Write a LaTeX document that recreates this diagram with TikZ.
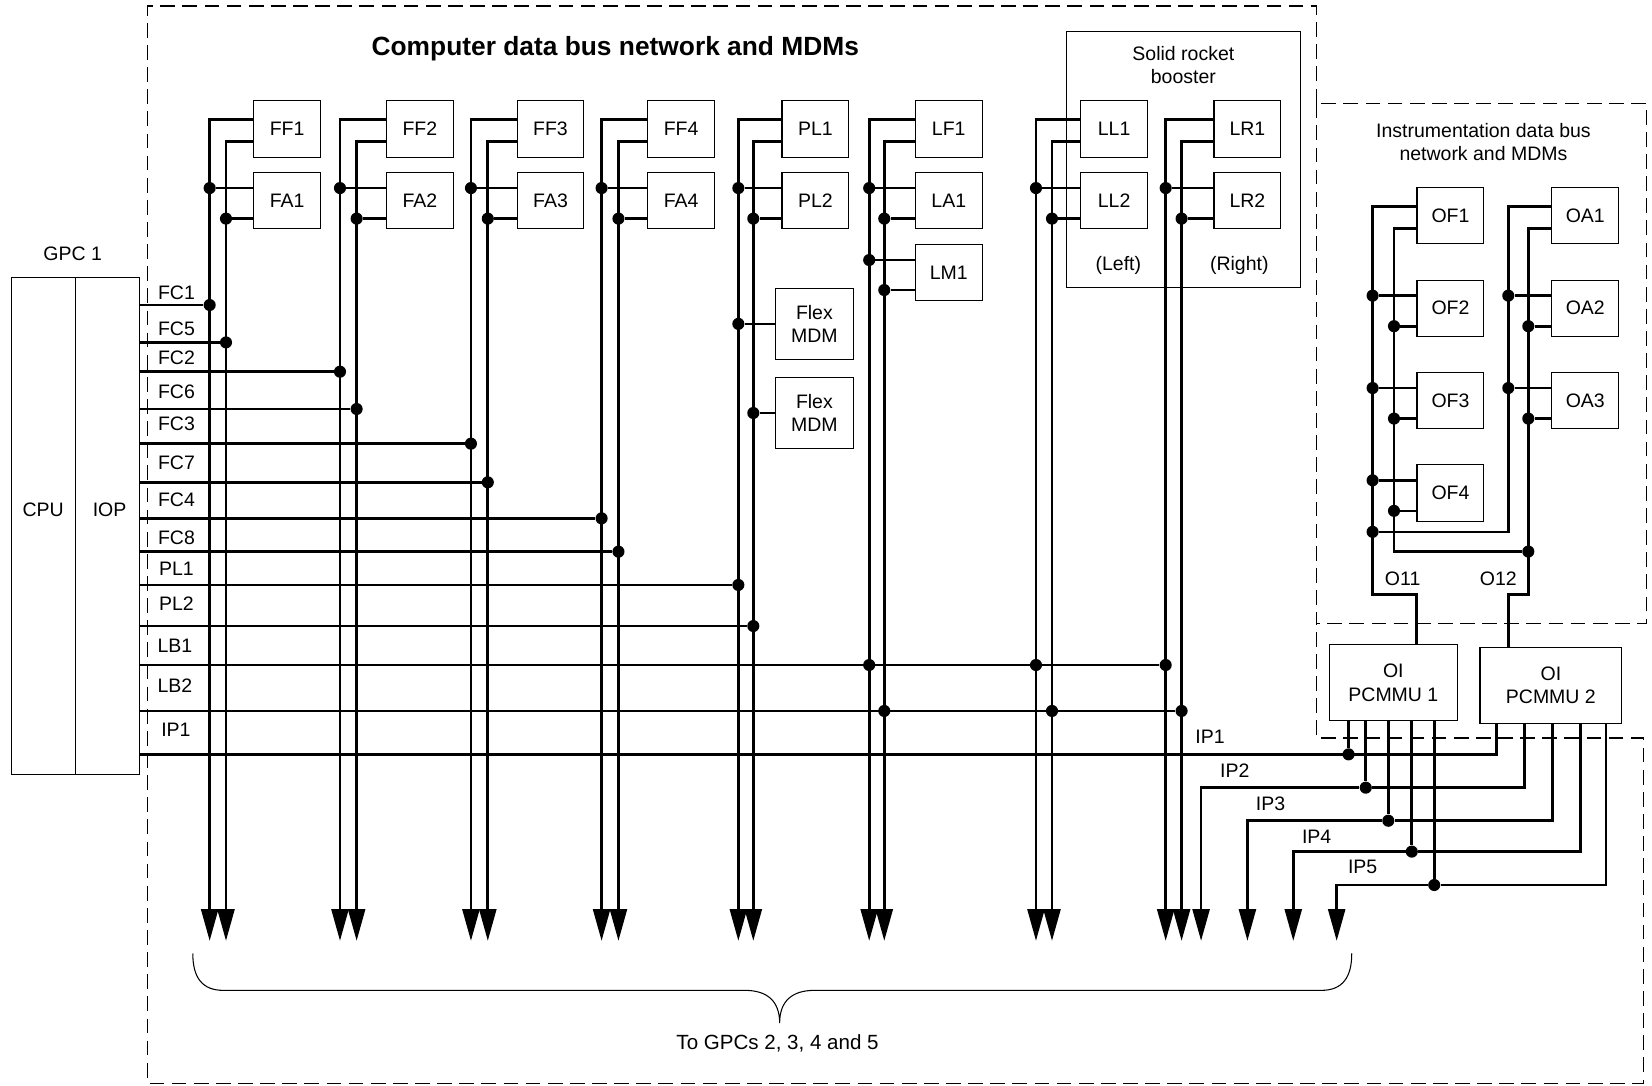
\documentclass[tikz,border=0pt]{standalone}
\usepackage{fontspec}
\setmainfont{Liberation Sans}
\usetikzlibrary{arrows.meta}
\usetikzlibrary{positioning}
\tikzset{
    box/.style={
           rectangle,
           draw=black, line width=1pt,
           minimum width=63.5pt,
           minimum height=53.5pt,
           inner sep=1pt,
           align=center,
           font=\fontsize{18.5}{22}\selectfont,
           },
    lbl/.style={inner sep=0pt, align=center, font=\fontsize{18.5}{22}\selectfont},
    bus/.style={line width=2.5pt},
    tobus/.style={line width=2.5pt, -{Triangle[length=30pt,width=16pt]}},
    dot/.style={circle, fill=black, inner sep=0pt, minimum size=11.5pt},
    frame/.style={line width=1.1pt, dash pattern=on 14pt off 7pt},
}
\begin{document}
\begin{tikzpicture}[x=1pt,y=-1pt]
      \useasboundingbox (0,0) rectangle (1568,1030);
      \draw[frame] (1249.7,98.1) -- (1249.7,5.7) -- (140.2,5.7) -- (140.2,1028) -- (1559.7,1028) -- (1559.7,700.5) -- (1249.7,700.5) -- (1249.7,592);
      \draw[frame] (1249.7,98.1) rectangle (1563,592);
      \node[font=\fontsize{25}{30}\selectfont\bfseries] (title) at (584,46) {Computer data bus network and MDMs};
      \node[draw, line width=1pt, minimum width=121pt, minimum height=472pt, inner sep=0pt] (gpc) at (71.6,499.5) {};
      \draw[line width=1pt] (gpc.north) -- (gpc.south);
      \node[lbl] (gpcname) at (69,241) {GPC 1};
      \node[lbl] (cpu) at (41,484) {CPU};
      \node[lbl] (iop) at (104,484) {IOP};
      \node[draw, line width=1pt, minimum width=221.5pt, minimum height=242.7pt] (srb) at (1123.2,151.4) {};
      \node[lbl] (srbname) at (1123.2,61.7) {Solid rocket\\booster};
      \node[lbl] (left) at (1061.5,251.5) {(Left)};
      \node[lbl] (right) at (1176.3,251.5) {(Right)};
      \foreach \up/\lo/\x/\pa/\pb/\g in {FF1/FA1/272.5/199/214.5/1, FF2/FA2/398.5/322.7/338.5/2,
                FF3/FA3/522.5/447/463/3, FF4/FA4/646.5/571/587/4, PL1/PL2/774/700.8/715/5,
                LF1/LA1/900.5/825/839.3/6, LL1/LL2/1057.5/983.3/998.5/7, LR1/LR2/1184/1106.4/1121.5/8} {
        \node[box] (\up) at (\x,122.3) {\up};
        \node[box] (\lo) at (\x,190.5) {\lo};
        \coordinate (ea\g) at (\pa,893);
        \coordinate (eb\g) at (\pb,893);
        \node[dot] (da\g) at (\pa,178.5) {};
        \node[dot] (db\g) at (\pb,207.5) {};
        \draw[tobus] ([yshift=9pt]\up.west) -| (ea\g);
        \draw[tobus] ([yshift=-12pt]\up.west) -| (eb\g);
        \draw[bus] (da\g) -- (da\g -| \lo.west);
        \draw[bus] (db\g) -- (db\g -| \lo.west);
      }
      \node[box] (LM1) at (900.5,258.6) {LM1};
      \node[dot] (lma) at (825,246.8) {};
      \node[dot] (lmb) at (839.3,275.3) {};
      \draw[bus] (lma) -- (lma -| LM1.west);
      \draw[bus] (lmb) -- (lmb -| LM1.west);
      \node[box, minimum width=74pt, minimum height=67pt] (flex1) at (773,307.4) {Flex\\MDM};
      \node[box, minimum width=74pt, minimum height=67pt] (flex2) at (773,392) {Flex\\MDM};
      \node[dot] (fxa) at (700.8,307.4) {};
      \node[dot] (fxb) at (715,392) {};
      \draw[bus] (fxa) -- (flex1.west);
      \draw[bus] (fxb) -- (flex2.west);
      \foreach \n/\y/\ly/\px in {FC1/289.5/277.5/199, FC5/325/311.6/214.5, FC2/352.8/340/322.7,
                FC6/388.2/371.8/338.5, FC3/421.1/402.7/447, FC7/457.8/439.1/463, FC4/492/474/571,
                FC8/523.6/510/587, PL1/555.2/539.4/700.8, PL2/594.2/573.3/715} {
        \node[dot] (j\n) at (\px,\y) {};
        \draw[bus] (gpc.east |- j\n) -- (j\n);
        \node[lbl] (t\n) at (167.5,\ly) {\n};
      }
      \node[dot] (jLB1a) at (825,631.2) {};
      \node[dot] (jLB1b) at (983.3,631.2) {};
      \node[dot] (jLB1c) at (1106.4,631.2) {};
      \draw[bus] (gpc.east |- jLB1a) -- (jLB1c);
      \node[dot] (jLB2a) at (839.3,674.8) {};
      \node[dot] (jLB2b) at (998.5,674.8) {};
      \node[dot] (jLB2c) at (1121.5,674.8) {};
      \draw[bus] (gpc.east |- jLB2a) -- (jLB2c);
      \node[lbl] (tLB1) at (166,612.8) {LB1};
      \node[lbl] (tLB2) at (166,650.8) {LB2};
      \node[lbl] (tIP1) at (167,692.9) {IP1};
      \node[lbl] (instr) at (1408,134.5) {Instrumentation data bus\\network and MDMs};
      \foreach \i/\y in {1/204.7, 2/292.6, 3/380.3, 4/467.9}
        \node[box] (OF\i) at (1376.7,\y) {OF\i};
      \foreach \i/\y in {1/204.7, 2/292.6, 3/380.3}
        \node[box] (OA\i) at (1504.7,\y) {OA\i};
      \foreach \i/\y in {2/292.6, 3/380.3, 4/467.9} {
        \node[dot] (ofa\i) at (1302.8,\y-12) {};
        \node[dot] (ofb\i) at (1323.1,\y+17) {};
        \draw[bus] (ofa\i) -- (ofa\i -| OF\i.west);
        \draw[bus] (ofb\i) -- (ofb\i -| OF\i.west);
      }
      \foreach \i/\y in {2/292.6, 3/380.3} {
        \node[dot] (oaa\i) at (1431.6,\y-12) {};
        \node[dot] (oab\i) at (1450.6,\y+17) {};
        \draw[bus] (oaa\i) -- (oaa\i -| OA\i.west);
        \draw[bus] (oab\i) -- (oab\i -| OA\i.west);
      }
      \node[box, minimum width=121.5pt, minimum height=72pt] (pcm1) at (1322.5,648.1) {OI\\PCMMU 1};
      \node[box, minimum width=134.5pt, minimum height=72pt] (pcm2) at (1472,650.6) {OI\\PCMMU 2};
      \coordinate (o11) at (1302.8,564.4);
      \coordinate (o12) at (1450.6,564.4);
      \coordinate (ca) at (1431.6,504.8);
      \coordinate (cb) at (1323.1,523.5);
      \node[dot] (xa) at (1302.8,504.8) {};
      \node[dot] (xb) at (1450.6,523.5) {};
      \draw[bus] ([yshift=9pt]OF1.west) -| (o11) -| ([xshift=22pt]pcm1.north);
      \draw[bus] ([yshift=-12pt]OF1.west) -| (cb) -- (xb);
      \draw[bus] ([yshift=9pt]OA1.west) -| (ca) -- (xa);
      \draw[bus] ([yshift=-12pt]OA1.west) -| (o12) -| ([xshift=-40pt]pcm2.north);
      \node[lbl] (to11) at (1331.3,549) {O11};
      \node[lbl] (to12) at (1422.2,549) {O12};
      \node[dot] (ip1) at (1280,716) {};
      \coordinate (iq1) at (1420.5,716);
      \draw[bus] (pcm1.south -| ip1) -- (ip1);
      \draw[bus] (gpc.east |- ip1) -- (iq1) -- (pcm2.south -| iq1);
      \foreach \i/\pa/\pb/\y/\ax in {2/1296.3/1446.8/747.6/1140, 3/1317.7/1473.7/779/1184,
                4/1340/1500.3/808.3/1227.5, 5/1361.3/1524.3/840/1268.7} {
        \node[dot] (ip\i) at (\pa,\y) {};
        \coordinate (iq\i) at (\pb,\y);
        \coordinate (ia\i) at (\ax,893);
        \draw[bus] (pcm1.south -| ip\i) -- (ip\i);
        \draw[bus] (pcm2.south -| iq\i) -- (iq\i) -- (ip\i);
        \draw[tobus] (ip\i) -| (ia\i);
      }
      \foreach \i/\x/\y in {1/1148.5/699, 2/1172/731.5, 3/1206/762.5, 4/1249.7/794.7, 5/1293.4/822.6}
        \node[lbl] (ipl\i) at (\x,\y) {IP\i};
      \draw[line width=1pt] (183,905) .. controls (183,928) and (192,940) .. (212,940) -- (707,940)
            .. controls (728,940) and (740,950) .. (740,971) .. controls (740,950) and (752,940) .. (773,940)
            -- (1254,940) .. controls (1274,940) and (1283,928) .. (1283,905);
      \node[lbl, font=\fontsize{19.5}{23}\selectfont] (togpc) at (738,990) {To GPCs 2, 3, 4 and 5};
\end{tikzpicture}
\end{document}
